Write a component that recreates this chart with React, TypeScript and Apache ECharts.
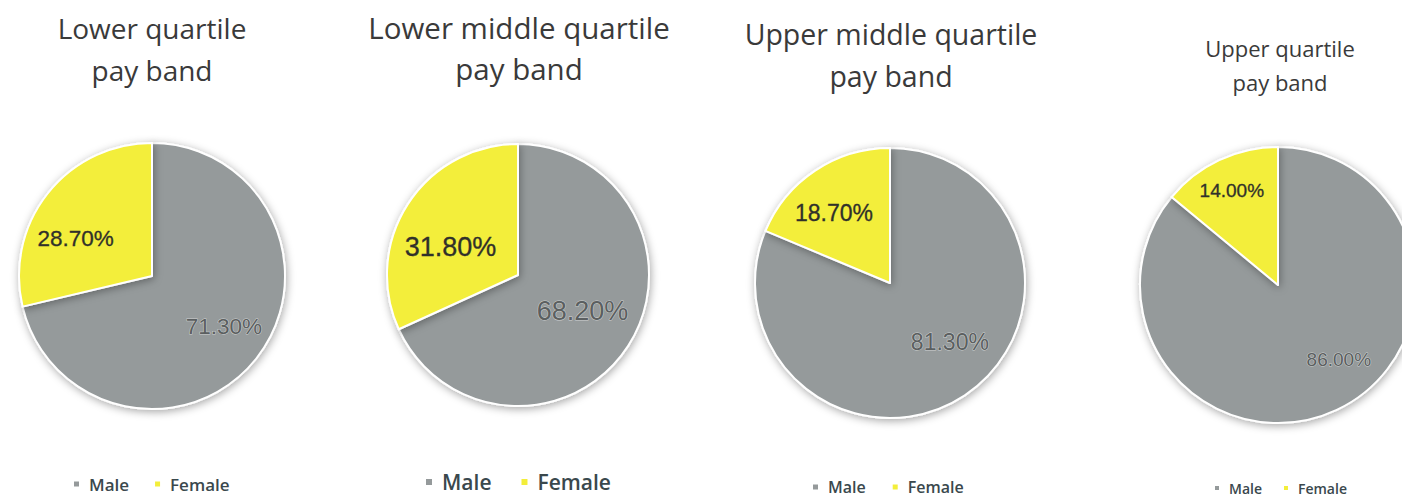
import React, { useEffect, useRef } from "react";
import * as echarts from "echarts";

const categories = ["Male", "Female"];
const bandTitles = [
  "Lower quartile\npay band",
  "Lower middle quartile\npay band",
  "Upper middle quartile\npay band",
  "Upper quartile\npay band",
];
const maleValues = [71.3, 68.2, 81.3, 86.0];
const femaleValues = [28.7, 31.8, 18.7, 14.0];

// layout (not data)
const centers = [
  [152, 276],
  [518, 275],
  [890, 283],
  [1278, 285],
];
const radii = [133, 131, 135, 138];
const maleLabelDist = [85, 71, 81, 93];
const femaleLabelDist = [82, 70, 87, 102];
const maleLabelTurn = [3, 3.4, 11.8, 14.1];
const femaleLabelTurn = [12.3, 10.2, 4.8, 0.9];
const labelSize = [22.5, 27, 23, 19];
const titlePos = [
  { x: 152, y: 7, size: 28, lh: 42 },
  { x: 519, y: 7, size: 29.5, lh: 41 },
  { x: 891, y: 13, size: 28.5, lh: 42 },
  { x: 1280, y: 31, size: 22, lh: 34 },
];
const legendPos = [
  { left: 72, center: 484, size: 17, gap: 24, icon: 7 },
  { left: 424, center: 482, size: 21, gap: 28, icon: 8 },
  { left: 811, center: 487, size: 16, gap: 25, icon: 7 },
  { left: 1213, center: 488, size: 14, gap: 20, icon: 6 },
];

const MALE = "#959a9b";
const FEMALE = "#f3ee3a";
const FONT = "'Open Sans', 'Noto Sans', sans-serif";
const LABEL_FONT = "'Liberation Sans', Arial, sans-serif";

export default function App() {
  const ref = useRef<HTMLDivElement>(null);
  useEffect(() => {
    document.body.style.margin = "0";
    const chart = echarts.init(ref.current!, undefined, { renderer: "svg" });
    const series: any[] = [];
    bandTitles.forEach((_, i) => {
      const data = [
        { name: categories[0], value: maleValues[i], itemStyle: { color: MALE } },
        { name: categories[1], value: femaleValues[i], itemStyle: { color: FEMALE } },
      ];
      series.push({
        type: "pie",
        center: centers[i],
        radius: [0, radii[i]],
        startAngle: 90,
        clockwise: true,
        data,
        label: { show: false },
        labelLine: { show: false },
        itemStyle: {
          borderColor: "#ffffff",
          borderWidth: 2,
          shadowBlur: 8,
          shadowColor: "rgba(0,0,0,0.35)",
          shadowOffsetX: 1,
          shadowOffsetY: 2,
        },
        emphasis: { disabled: true },
      });
      // label overlays (transparent), one for each category
      [0, 1].forEach((which) => {
        const dist = which === 0 ? maleLabelDist[i] : femaleLabelDist[i];
        const turn = which === 0 ? maleLabelTurn[i] : femaleLabelTurn[i];
        series.push({
          type: "pie",
          center: centers[i],
          radius: [0, dist * 2],
          startAngle: 90 + turn,
          clockwise: true,
          silent: true,
          data: data.map((d, j) => ({
            name: d.name,
            value: d.value,
            itemStyle: { color: "rgba(0,0,0,0)", borderWidth: 0 },
            label: {
              show: j === which,
              color: j === 0 ? "#5b5f60" : "#30302a",
              textBorderColor: j === 0 ? "rgba(255,255,255,0.55)" : "#30302a",
              textBorderWidth: j === 0 ? 1 : 0.3,
            },
          })),
          label: {
            show: true,
            position: "inside",
            fontSize: labelSize[i],
            fontFamily: LABEL_FONT,
            formatter: (p: any) => p.value.toFixed(2) + "%",
          },
          labelLine: { show: false },
          emphasis: { disabled: true },
        });
      });
    });

    const legends = legendPos.map((l) => ({
      left: l.left,
      top: l.center - l.size / 2,
      padding: 0,
      orient: "horizontal",
      icon: "rect",
      itemWidth: l.icon,
      itemHeight: l.icon,
      itemGap: l.gap,
      selectedMode: false,
      data: categories,
      textStyle: {
        fontSize: l.size,
        lineHeight: l.size,
        fontWeight: 600,
        fontFamily: FONT,
        color: "#3a484d",
        padding: [0, 0, 0, 4],
      },
    }));

    const graphic = bandTitles.map((t, i) => ({
      type: "text",
      x: titlePos[i].x,
      y: titlePos[i].y,
      style: {
        text: t,
        align: "center",
        verticalAlign: "top",
        fontSize: titlePos[i].size,
        lineHeight: titlePos[i].lh,
        fontFamily: FONT,
        fill: "#3a3a3a",
      },
    }));

    chart.setOption({
      animation: false,
      backgroundColor: "#ffffff",
      legend: legends,
      graphic,
      series,
    });
    return () => chart.dispose();
  }, []);
  return <div ref={ref} style={{ width: 1402, height: 497 }} />;
}
